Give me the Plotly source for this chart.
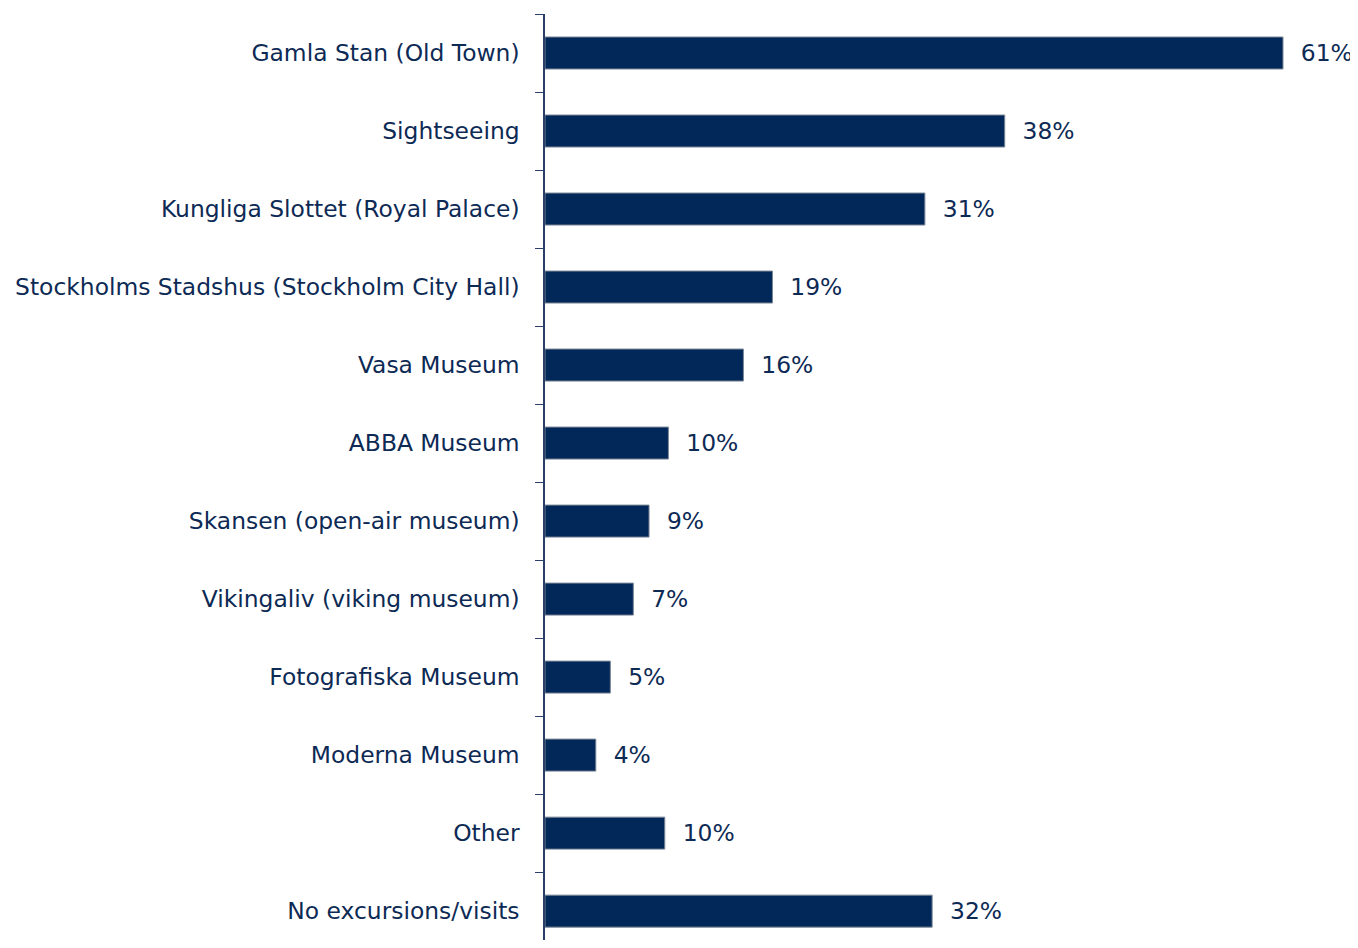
import plotly.graph_objects as go

categories = [
    "Gamla Stan (Old Town)",
    "Sightseeing",
    "Kungliga Slottet (Royal Palace)",
    "Stockholms Stadshus (Stockholm City Hall)",
    "Vasa Museum",
    "ABBA Museum",
    "Skansen (open-air museum)",
    "Vikingaliv (viking museum)",
    "Fotografiska Museum",
    "Moderna Museum",
    "Other",
    "No excursions/visits",
]
values = [61.0, 38.0, 31.4, 18.8, 16.4, 10.2, 8.6, 7.3, 5.4, 4.2, 9.9, 32.0]
labels = ["61%", "38%", "31%", "19%", "16%", "10%", "9%", "7%", "5%", "4%", "10%", "32%"]

navy = "#02285a"
text_color = "#0d2a55"
font_family = "DejaVu Sans, Verdana, sans-serif"
font_size = 23.4

fig = go.Figure(
    go.Bar(
        x=values,
        y=categories,
        orientation="h",
        marker=dict(color=navy, line=dict(color="#7a8696", width=1)),
        text=["  " + t for t in labels],
        textposition="outside",
        textfont=dict(family=font_family, size=font_size, color=text_color),
        cliponaxis=False,
        width=0.41,
    )
)

fig.update_layout(
    width=1350,
    height=932,
    margin=dict(l=537, r=0, t=6, b=0),
    plot_bgcolor="white",
    paper_bgcolor="white",
    showlegend=False,
    font=dict(family=font_family, size=font_size, color=text_color),
    xaxis=dict(
        range=[0, 67.2],
        visible=False,
        showgrid=False,
        zeroline=False,
    ),
    yaxis=dict(
        autorange=False,
        range=[11.37, -0.5],
        showline=True,
        linecolor="#2a3f66",
        linewidth=1.5,
        ticks="outside",
        ticklen=8,
        tickcolor="#2a3f66",
        tickson="boundaries",
        showgrid=False,
        automargin=False,
        ticklabelstandoff=19,
        tickfont=dict(family=font_family, size=font_size, color=text_color),
    ),
)

fig.write_html("out.html")
